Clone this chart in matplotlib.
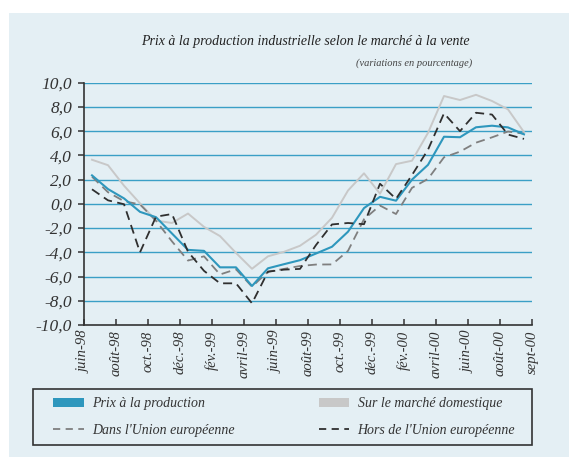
import matplotlib
matplotlib.use("Agg")
import matplotlib.pyplot as plt
from matplotlib.patches import Rectangle, Patch
from matplotlib.lines import Line2D

# Data (monthly, juin-98 .. sept-00)
months = list(range(28))
prix = [2.35, 1.22, 0.45, -0.66, -1.1, -2.45, -3.8, -3.88, -5.24, -5.24,
        -6.78, -5.32, -4.98, -4.65, -4.1, -3.54, -2.3, -0.35, 0.58, 0.26,
        2.0, 3.22, 5.54, 5.5, 6.32, 6.45, 6.31, 5.74]
domestique = [3.64, 3.19, 1.5, 0.04, -1.38, -1.58, -0.8, -1.9, -2.66, -4.05,
              -5.36, -4.33, -3.96, -3.46, -2.55, -1.15, 1.1, 2.52, 0.84, 3.28,
              3.56, 5.86, 8.9, 8.57, 9.0, 8.49, 7.8, 5.92]
dans_ue = [2.24, 0.96, 0.22, -0.05, -1.4, -3.1, -4.68, -4.33, -5.83, -5.4,
           -6.84, -5.6, -5.37, -5.13, -5.01, -5.0, -3.88, -1.27, -0.14, -0.84,
           1.32, 2.06, 3.84, 4.31, 5.05, 5.49, 5.97, 5.79]
hors_ue = [1.2, 0.29, -0.03, -4.0, -1.06, -0.84, -3.95, -5.53, -6.56, -6.56,
           -8.21, -5.6, -5.43, -5.37, -3.4, -1.7, -1.58, -1.68, 1.66, 0.41,
           2.38, 4.47, 7.47, 6.0, 7.52, 7.37, 5.72, 5.36]

tick_labels = ["juin-98", "août-98", "oct.-98", "déc.-98", "fév.-99", "avril-99",
               "juin-99", "août-99", "oct.-99", "déc.-99", "fév.-00", "avril-00",
               "juin-00", "août-00", "sept-00"]
y_ticks = [10, 8, 6, 4, 2, 0, -2, -4, -6, -8, -10]
y_labels = ["10,0", "8,0", "6,0", "4,0", "2,0", "0,0", "-2,0", "-4,0", "-6,0", "-8,0", "-10,0"]

BG = "#e4eff4"
BLUE = "#2e97bd"
LIGHT = "#c8c8c8"
GREY = "#7f7f7f"
DARK = "#2f2f2f"
GRID = "#3a9fc6"

plt.rcParams["font.family"] = ["Liberation Serif", "DejaVu Serif"]
plt.rcParams["font.style"] = "italic"

W, H = 569, 457
fig = plt.figure(figsize=(W / 100, H / 100), dpi=100, facecolor="white")

# light blue panel behind everything
fig.patches.append(Rectangle((9 / W, 0), 1 - 9 / W, 1 - 13 / H,
                             transform=fig.transFigure, facecolor=BG,
                             edgecolor="none", zorder=-10))

ax = fig.add_axes([84 / W, 1 - 325 / H, 448 / W, 242.3 / H])
ax.set_facecolor("none")

for y in y_ticks[:-1]:
    ax.axhline(y, color=GRID, lw=1.0, zorder=1)

ax.plot(months, domestique, color=LIGHT, lw=1.4, zorder=2)
ax.plot(months, dans_ue, color=GREY, lw=1.3, dashes=(5, 3), zorder=3)
ax.plot(months, prix, color=BLUE, lw=1.5, zorder=4)
ax.plot(months, hors_ue, color=DARK, lw=1.3, dashes=(5, 3), zorder=5)

ax.set_xlim(-0.5, 27.5)
ax.set_ylim(-10, 10)
ax.set_xticks([-0.5 + 2 * k for k in range(15)])
ax.set_xticklabels(tick_labels, rotation=90, fontsize=10.5, color="#333333")
ax.set_yticks(y_ticks)
ax.set_yticklabels(y_labels, fontsize=12.5, color="#333333")
ax.tick_params(axis="x", direction="in", length=4, width=1.1, pad=4, color="#333333")
ax.tick_params(axis="y", direction="out", length=4.5, width=1.1, pad=4, color="#333333")
for s in ["top", "right"]:
    ax.spines[s].set_visible(False)
for s in ["left", "bottom"]:
    ax.spines[s].set_color("#333333")
    ax.spines[s].set_linewidth(1.2)

fig.text(305 / W, 1 - 41 / H, "Prix à la production industrielle selon le marché à la vente",
         ha="center", va="center", fontsize=10, color="#222222")
fig.text(472 / W, 1 - 63 / H, "(variations en pourcentage)",
         ha="right", va="center", fontsize=7.5, color="#444444")

# legend frame
fig.patches.append(Rectangle((33 / W, 1 - 445 / H), 499 / W, 56 / H,
                             transform=fig.transFigure, facecolor="none",
                             edgecolor="#333333", lw=1.2, zorder=1))

handles = [Patch(facecolor=BLUE, edgecolor="none"),
           Line2D([], [], color=GREY, lw=1.3, dashes=(4, 3)),
           Patch(facecolor=LIGHT, edgecolor="none"),
           Line2D([], [], color=DARK, lw=1.3, dashes=(4, 3))]
labels = ["Prix à la production", "Dans l'Union européenne",
          "Sur le marché domestique", "Hors de l'Union européenne"]
leg = fig.legend(handles, labels, ncol=2, loc="center",
                 bbox_to_anchor=(53 / W, 1 - 445 / H, 462 / W, 56 / H),
                 mode="expand", fontsize=10, frameon=False,
                 handlelength=2.2, handletextpad=0.6, borderpad=0,
                 labelspacing=0.95, borderaxespad=0)
for t in leg.get_texts():
    t.set_color("#333333")

fig.savefig("out.png", dpi=100, facecolor="white")
